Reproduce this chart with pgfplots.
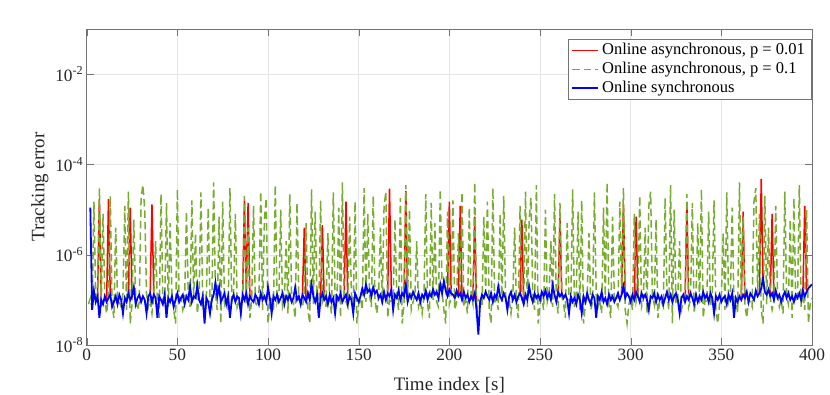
\documentclass[border=0pt]{standalone}
\usepackage{pgfplots}
\pgfplotsset{compat=1.18}
\usepackage{fontspec}
\setmainfont{Liberation Serif}

\definecolor{mred}{RGB}{255,0,0}
\definecolor{mgreen}{RGB}{119,172,48}
\definecolor{mblue}{RGB}{0,0,255}

\begin{document}
\begin{tikzpicture}
\useasboundingbox (-86.7pt,-50pt) rectangle (743.3pt,345pt);
\begin{axis}[
  at={(0,0)}, anchor=south west,
  scale only axis,
  width=725.3pt, height=316pt,
  xmin=0, xmax=400,
  ymode=log, ymin=1e-8, ymax=1e-1,
  xtick={0,50,...,400},
  ytick={1e-8,1e-6,1e-4,1e-2},
  yticklabels={10\textsuperscript{-8},10\textsuperscript{-6},10\textsuperscript{-4},10\textsuperscript{-2}},
  yminorticks=false,
  grid=major, major grid style={black!10},
  axis line style={black!55},
  tick style={black!55}, major tick length=7pt,
  tick align=inside,
  /pgf/number format/assume math mode=true,
  tick label style={font=\fontsize{17.3}{20}\selectfont, text=black!85},
  label style={font=\fontsize{19}{22}\selectfont, text=black!85},
  xlabel={Time index [s]},
  ylabel={Tracking error},
  xlabel style={at={(axis description cs:0.5,0)}, anchor=base, yshift=-45pt},
  unbounded coords=jump,
  legend style={at={(0.9986,0.968)}, anchor=north east, draw=black!55,
    font=\fontsize{16.5}{19}\selectfont, inner xsep=3pt, inner ysep=1.5pt,
    row sep=0pt, cells={anchor=west},
    nodes={text height=12pt, text depth=4pt, inner ysep=1.5pt, inner xsep=3pt}},
  legend image code/.code={\draw[#1] (0pt,0pt) -- (26pt,0pt);},
]
\addlegendimage{color=mred, line width=1.5pt}
\addlegendentry{Online asynchronous, p = 0.01}
\addlegendimage{color=mgreen, line width=1.5pt, dash pattern=on 7.5pt off 4pt}
\addlegendentry{Online asynchronous, p = 0.1}
\addlegendimage{color=mblue, line width=1.8pt}
\addlegendentry{Online synchronous}

% asynchronous, p = 0.01 (hidden under the synchronous curve except at the spikes)
\addplot[forget plot, color=mred, line width=1.5pt] coordinates {
 (6,12e-8)(7,1.7e-5)(8,10e-8)(9,nan)
 (11,9e-8)(12,1.7e-5)(13,13e-8)(14,nan)
 (23,14e-8)(24,1.1e-5)(25,12e-8)(26,nan)
 (35,14e-8)(36,1.3e-5)(37,13e-8)(38,nan)
 (86,13e-8)(87,1.6e-5)(88,14e-8)(89,1.4e-5)(90,12e-8)(91,nan)
 (119,13e-8)(120,4e-6)(121,9e-8)(122,nan)
 (129,11e-8)(130,4.5e-6)(131,10e-8)(132,nan)
 (142,11e-8)(143,1.5e-5)(144,8e-8)(145,nan)
 (166,14e-8)(167,2.9e-5)(168,17e-8)(169,nan)
 (175,12e-8)(176,2.6e-5)(177,9e-8)(178,nan)
 (199,12e-8)(200,1.5e-5)(201,14e-8)(202,nan)
 (205,12e-8)(206,1.2e-5)(207,10e-8)(208,nan)
 (213,10e-8)(214,7e-6)(215,6e-8)(216,nan)
 (239,14e-8)(240,6e-6)(241,8e-8)(242,nan)
 (260,15e-8)(261,6.5e-6)(262,14e-8)(263,nan)
 (295,13e-8)(296,1.3e-5)(297,11e-8)(298,nan)
 (302,10e-8)(303,7e-6)(304,12e-8)(305,nan)
 (330,9e-8)(331,1.3e-5)(332,10e-8)(333,nan)
 (361,10e-8)(362,9e-6)(363,11e-8)(364,nan)
 (371,14e-8)(372,4.8e-5)(373,30e-8)(374,nan)
 (377,12e-8)(378,8e-6)(379,10e-8)(380,nan)
 (395,16e-8)(396,1.2e-5)(397,15e-8)
};
% asynchronous, p = 0.1
\addplot[forget plot, color=mgreen, line width=1.5pt, dash pattern=on 7.5pt off 4pt] coordinates {
 (1,8e-8)(2,1.1e-7)(3,6e-8)(4,1.5e-5)(5,9e-8)(6,1.3e-7)(7,3e-5)(8,7e-8)(9,8e-6)(10,1e-7)
 (11,5e-8)(12,1.2e-7)(13,2e-5)(14,8e-8)(15,4e-8)(16,4e-6)(17,1e-7)(18,9e-8)(19,7e-8)(20,1.4e-7)
 (21,1.2e-5)(22,6e-8)(23,2.5e-5)(24,3e-8)(25,8e-8)(26,6e-6)(27,1.1e-7)(28,6e-8)(29,9e-8)(30,1.8e-5)
 (31,3.5e-5)(32,1e-5)(33,1.3e-7)(34,7e-8)(35,1e-7)(36,5e-8)(37,1.2e-7)(38,2e-6)(39,8e-8)(40,4e-8)
 (41,2.2e-5)(42,1e-7)(43,9e-8)(44,1.4e-5)(45,7e-8)(46,5e-6)(47,1.4e-7)(48,6e-8)(49,3e-8)(50,2.8e-5)
 (51,8e-8)(52,1.1e-7)(53,6e-8)(54,9e-8)(55,9e-6)(56,1.3e-7)(57,7e-8)(58,1.6e-5)(59,1e-7)(60,3e-6)
 (61,5e-8)(62,1.2e-7)(63,2.4e-5)(64,8e-8)(65,4e-8)(66,1e-7)(67,1.1e-5)(68,9e-8)(69,7e-8)(70,4e-5)
 (71,1.4e-7)(72,6e-8)(73,7e-6)(74,3e-8)(75,1.5e-5)(76,8e-8)(77,1.1e-7)(78,6e-8)(79,3e-5)(80,9e-8)
 (81,1.3e-7)(82,8e-6)(83,7e-8)(84,1e-7)(85,5e-8)(86,1.2e-7)(87,2e-5)(88,8e-8)(89,4e-6)(90,4e-8)
 (91,1e-7)(92,1.2e-5)(93,9e-8)(94,7e-8)(95,1.4e-7)(96,2.5e-5)(97,6e-8)(98,6e-6)(99,1.8e-5)(100,3e-8)
 (101,8e-8)(102,1.1e-7)(103,6e-8)(104,3.5e-5)(105,9e-8)(106,1.3e-7)(107,1e-5)(108,7e-8)(109,1e-7)(110,2e-6)
 (111,5e-8)(112,2.2e-5)(113,1.2e-7)(114,8e-8)(115,4e-8)(116,1.4e-5)(117,1e-7)(118,9e-8)(119,7e-8)(120,1.4e-7)
 (121,5e-6)(122,6e-8)(123,3e-8)(124,2.8e-5)(125,8e-8)(126,9e-6)(127,1.1e-7)(128,6e-8)(129,1.6e-5)(130,9e-8)
 (131,1.3e-7)(132,7e-8)(133,3e-6)(134,1e-7)(135,5e-8)(136,2.4e-5)(137,1.2e-7)(138,8e-8)(139,1.1e-5)(140,4e-8)
 (141,4e-5)(142,1e-7)(143,9e-8)(144,7e-8)(145,7e-6)(146,1.4e-7)(147,6e-8)(148,1.5e-5)(149,3e-8)(150,8e-8)
 (151,1.1e-7)(152,6e-8)(153,3e-5)(154,9e-8)(155,8e-6)(156,1.3e-7)(157,7e-8)(158,2e-5)(159,1e-7)(160,5e-8)
 (161,1.2e-7)(162,4e-6)(163,8e-8)(164,1.2e-5)(165,2.5e-5)(166,4e-8)(167,1e-7)(168,9e-8)(169,7e-8)(170,6e-6)
 (171,1.4e-7)(172,6e-8)(173,1.8e-5)(174,3e-8)(175,8e-8)(176,3.5e-5)(177,1.1e-7)(178,1e-5)(179,6e-8)(180,9e-8)
 (181,1.3e-7)(182,2e-6)(183,7e-8)(184,1e-7)(185,5e-8)(186,1.2e-7)(187,2.2e-5)(188,8e-8)(189,4e-8)(190,1.4e-5)
 (191,1e-7)(192,5e-6)(193,9e-8)(194,7e-8)(195,2.8e-5)(196,1.4e-7)(197,6e-8)(198,3e-8)(199,9e-6)(200,8e-8)
 (201,1.1e-7)(202,1.6e-5)(203,6e-8)(204,9e-8)(205,3e-6)(206,1.3e-7)(207,2.4e-5)(208,7e-8)(209,1e-7)(210,5e-8)
 (211,1.1e-5)(212,1.2e-7)(213,8e-8)(214,4e-5)(215,4e-8)(216,1e-7)(217,9e-8)(218,7e-8)(219,7e-6)(220,1.4e-7)
 (221,1.5e-5)(222,6e-8)(223,3e-8)(224,3e-5)(225,8e-8)(226,1.1e-7)(227,6e-8)(228,8e-6)(229,9e-8)(230,2e-5)
 (231,1.3e-7)(232,7e-8)(233,1e-7)(234,5e-8)(235,1.2e-7)(236,4e-6)(237,8e-8)(238,4e-8)(239,1.2e-5)(240,1e-7)
 (241,9e-8)(242,2.5e-5)(243,7e-8)(244,6e-6)(245,1.8e-5)(246,1.4e-7)(247,6e-8)(248,3.5e-5)(249,3e-8)(250,8e-8)
 (251,1.1e-7)(252,6e-8)(253,1e-5)(254,9e-8)(255,1.3e-7)(256,2e-6)(257,7e-8)(258,2.2e-5)(259,1e-7)(260,5e-8)
 (261,1.4e-5)(262,1.2e-7)(263,8e-8)(264,4e-8)(265,5e-6)(266,1e-7)(267,9e-8)(268,2.8e-5)(269,7e-8)(270,1.4e-7)
 (271,9e-6)(272,6e-8)(273,1.6e-5)(274,3e-8)(275,8e-8)(276,1.1e-7)(277,3e-6)(278,6e-8)(279,9e-8)(280,2.4e-5)
 (281,1.3e-7)(282,7e-8)(283,1e-7)(284,5e-8)(285,1.1e-5)(286,1.2e-7)(287,4e-5)(288,8e-8)(289,4e-8)(290,7e-6)
 (291,1e-7)(292,9e-8)(293,7e-8)(294,1.5e-5)(295,1.4e-7)(296,3e-5)(297,6e-8)(298,3e-8)(299,8e-8)(300,1.1e-7)
 (301,6e-8)(302,8e-6)(303,9e-8)(304,1.3e-7)(305,2e-5)(306,7e-8)(307,1e-7)(308,4e-6)(309,5e-8)(310,1.2e-5)
 (311,2.5e-5)(312,1.2e-7)(313,8e-8)(314,6e-6)(315,4e-8)(316,1e-7)(317,9e-8)(318,7e-8)(319,1.8e-5)(320,1.4e-7)
 (321,6e-8)(322,3.5e-5)(323,3e-8)(324,1e-5)(325,8e-8)(326,1.1e-7)(327,2e-6)(328,6e-8)(329,9e-8)(330,1.3e-7)
 (331,2.2e-5)(332,7e-8)(333,1e-7)(334,1.4e-5)(335,5e-8)(336,1.2e-7)(337,5e-6)(338,8e-8)(339,2.8e-5)(340,4e-8)
 (341,1e-7)(342,9e-8)(343,9e-6)(344,7e-8)(345,1.4e-7)(346,1.6e-5)(347,6e-8)(348,3e-8)(349,8e-8)(350,1.1e-7)
 (351,3e-6)(352,6e-8)(353,2.4e-5)(354,9e-8)(355,1.3e-7)(356,1.1e-5)(357,7e-8)(358,1e-7)(359,5e-8)(360,4e-5)
 (361,1.2e-7)(362,7e-6)(363,8e-8)(364,4e-8)(365,1e-7)(366,9e-8)(367,7e-8)(368,1.5e-5)(369,3e-5)(370,1.4e-7)
 (371,8e-6)(372,6e-8)(373,3e-8)(374,2e-5)(375,8e-8)(376,4e-6)(377,1.1e-7)(378,6e-8)(379,9e-8)(380,1.2e-5)
 (381,1.3e-7)(382,7e-8)(383,1e-7)(384,5e-8)(385,2.5e-5)(386,1.2e-7)(387,8e-8)(388,6e-6)(389,4e-8)(390,1.8e-5)
 (391,1e-7)(392,9e-8)(393,3.5e-5)(394,7e-8)(395,1.4e-7)(396,6e-8)(397,1e-5)(398,3e-8)(399,8e-8)(400,1.1e-7)
};
% synchronous
\addplot[forget plot, color=mblue, line width=1.8pt] coordinates {
 (2,1100e-8)(3,6e-8)(4,16e-8)(5,9e-8)(6,12e-8)(7,4e-8)(8,10e-8)(9,8e-8)(10,12e-8)(11,9e-8)
 (12,11e-8)(13,13e-8)(14,7e-8)(15,9e-8)(16,12e-8)(17,8e-8)(18,13e-8)(19,10e-8)(20,5e-8)(21,11e-8)
 (22,9e-8)(23,14e-8)(24,10e-8)(25,12e-8)(26,19e-8)(27,8e-8)(28,11e-8)(29,13e-8)(30,9e-8)(31,12e-8)
 (32,10e-8)(33,5e-8)(34,12e-8)(35,14e-8)(36,9e-8)(37,13e-8)(38,11e-8)(39,4e-8)(40,12e-8)(41,10e-8)
 (42,8e-8)(43,13e-8)(44,4e-8)(45,11e-8)(46,9e-8)(47,12e-8)(48,7e-8)(49,10e-8)(50,14e-8)(51,9e-8)
 (52,11e-8)(53,13e-8)(54,8e-8)(55,12e-8)(56,10e-8)(57,20e-8)(58,9e-8)(59,12e-8)(60,11e-8)(61,21e-8)
 (62,10e-8)(63,8e-8)(64,12e-8)(65,3e-8)(66,11e-8)(67,9e-8)(68,5e-8)(69,10e-8)(70,13e-8)(71,24e-8)
 (72,12e-8)(73,19e-8)(74,9e-8)(75,11e-8)(76,14e-8)(77,8e-8)(78,12e-8)(79,4e-8)(80,10e-8)(81,13e-8)
 (82,9e-8)(83,12e-8)(84,11e-8)(85,5e-8)(86,13e-8)(87,10e-8)(88,14e-8)(89,8e-8)(90,12e-8)(91,10e-8)
 (92,9e-8)(93,13e-8)(94,11e-8)(95,8e-8)(96,14e-8)(97,10e-8)(98,12e-8)(99,9e-8)(100,19e-8)(101,11e-8)
 (102,5e-8)(103,12e-8)(104,10e-8)(105,13e-8)(106,9e-8)(107,11e-8)(108,14e-8)(109,8e-8)(110,12e-8)(111,10e-8)
 (112,13e-8)(113,9e-8)(114,11e-8)(115,19e-8)(116,10e-8)(117,12e-8)(118,8e-8)(119,13e-8)(120,11e-8)(121,9e-8)
 (122,14e-8)(123,10e-8)(124,22e-8)(125,12e-8)(126,9e-8)(127,13e-8)(128,4e-8)(129,11e-8)(130,14e-8)(131,10e-8)
 (132,12e-8)(133,8e-8)(134,13e-8)(135,9e-8)(136,11e-8)(137,5e-8)(138,12e-8)(139,10e-8)(140,14e-8)(141,9e-8)
 (142,11e-8)(143,13e-8)(144,8e-8)(145,12e-8)(146,10e-8)(147,5e-8)(148,14e-8)(149,11e-8)(150,9e-8)(151,12e-8)
 (152,18e-8)(153,13e-8)(154,22e-8)(155,15e-8)(156,17e-8)(157,12e-8)(158,19e-8)(159,14e-8)(160,16e-8)(161,11e-8)
 (162,13e-8)(163,9e-8)(164,15e-8)(165,10e-8)(166,14e-8)(167,12e-8)(168,17e-8)(169,6e-8)(170,13e-8)(171,11e-8)
 (172,16e-8)(173,10e-8)(174,14e-8)(175,12e-8)(176,22e-8)(177,9e-8)(178,13e-8)(179,11e-8)(180,15e-8)(181,12e-8)
 (182,10e-8)(183,14e-8)(184,9e-8)(185,13e-8)(186,11e-8)(187,16e-8)(188,10e-8)(189,14e-8)(190,12e-8)(191,17e-8)
 (192,13e-8)(193,15e-8)(194,11e-8)(195,22e-8)(196,14e-8)(197,26e-8)(198,16e-8)(199,12e-8)(200,17e-8)(201,14e-8)
 (202,13e-8)(203,11e-8)(204,16e-8)(205,12e-8)(206,14e-8)(207,10e-8)(208,15e-8)(209,11e-8)(210,13e-8)(211,9e-8)
 (212,12e-8)(213,10e-8)(214,14e-8)(215,6e-8)(216,1.7e-8)(217,9e-8)(218,13e-8)(219,11e-8)(220,15e-8)(221,12e-8)
 (222,10e-8)(223,14e-8)(224,9e-8)(225,13e-8)(226,11e-8)(227,20e-8)(228,12e-8)(229,10e-8)(230,14e-8)(231,11e-8)
 (232,6e-8)(233,12e-8)(234,15e-8)(235,10e-8)(236,13e-8)(237,9e-8)(238,12e-8)(239,14e-8)(240,11e-8)(241,8e-8)
 (242,13e-8)(243,10e-8)(244,20e-8)(245,12e-8)(246,9e-8)(247,14e-8)(248,11e-8)(249,13e-8)(250,10e-8)(251,15e-8)
 (252,12e-8)(253,16e-8)(254,11e-8)(255,14e-8)(256,10e-8)(257,21e-8)(258,13e-8)(259,9e-8)(260,15e-8)(261,12e-8)
 (262,14e-8)(263,11e-8)(264,13e-8)(265,10e-8)(266,5e-8)(267,12e-8)(268,9e-8)(269,11e-8)(270,8e-8)(271,13e-8)
 (272,10e-8)(273,5e-8)(274,12e-8)(275,9e-8)(276,14e-8)(277,10e-8)(278,8e-8)(279,13e-8)(280,11e-8)(281,4e-8)
 (282,12e-8)(283,10e-8)(284,15e-8)(285,9e-8)(286,11e-8)(287,8e-8)(288,13e-8)(289,10e-8)(290,12e-8)(291,9e-8)
 (292,11e-8)(293,14e-8)(294,10e-8)(295,13e-8)(296,20e-8)(297,11e-8)(298,14e-8)(299,12e-8)(300,9e-8)(301,13e-8)
 (302,10e-8)(303,15e-8)(304,12e-8)(305,9e-8)(306,14e-8)(307,11e-8)(308,13e-8)(309,10e-8)(310,6e-8)(311,12e-8)
 (312,11e-8)(313,14e-8)(314,9e-8)(315,13e-8)(316,10e-8)(317,12e-8)(318,8e-8)(319,11e-8)(320,15e-8)(321,10e-8)
 (322,13e-8)(323,9e-8)(324,12e-8)(325,14e-8)(326,10e-8)(327,5e-8)(328,11e-8)(329,13e-8)(330,9e-8)(331,12e-8)
 (332,10e-8)(333,14e-8)(334,11e-8)(335,8e-8)(336,13e-8)(337,9e-8)(338,12e-8)(339,10e-8)(340,15e-8)(341,11e-8)
 (342,13e-8)(343,9e-8)(344,14e-8)(345,11e-8)(346,5e-8)(347,12e-8)(348,10e-8)(349,13e-8)(350,9e-8)(351,11e-8)
 (352,12e-8)(353,8e-8)(354,13e-8)(355,10e-8)(356,14e-8)(357,4e-8)(358,11e-8)(359,9e-8)(360,12e-8)(361,10e-8)
 (362,13e-8)(363,11e-8)(364,15e-8)(365,9e-8)(366,14e-8)(367,12e-8)(368,10e-8)(369,16e-8)(370,12e-8)(371,14e-8)
 (372,18e-8)(373,30e-8)(374,15e-8)(375,13e-8)(376,17e-8)(377,12e-8)(378,14e-8)(379,10e-8)(380,16e-8)(381,11e-8)
 (382,13e-8)(383,9e-8)(384,12e-8)(385,15e-8)(386,11e-8)(387,14e-8)(388,10e-8)(389,12e-8)(390,9e-8)(391,13e-8)
 (392,11e-8)(393,14e-8)(394,10e-8)(395,16e-8)(396,12e-8)(397,15e-8)(398,18e-8)(399,20e-8)(400,22e-8)
};
\end{axis}
\end{tikzpicture}
\end{document}
